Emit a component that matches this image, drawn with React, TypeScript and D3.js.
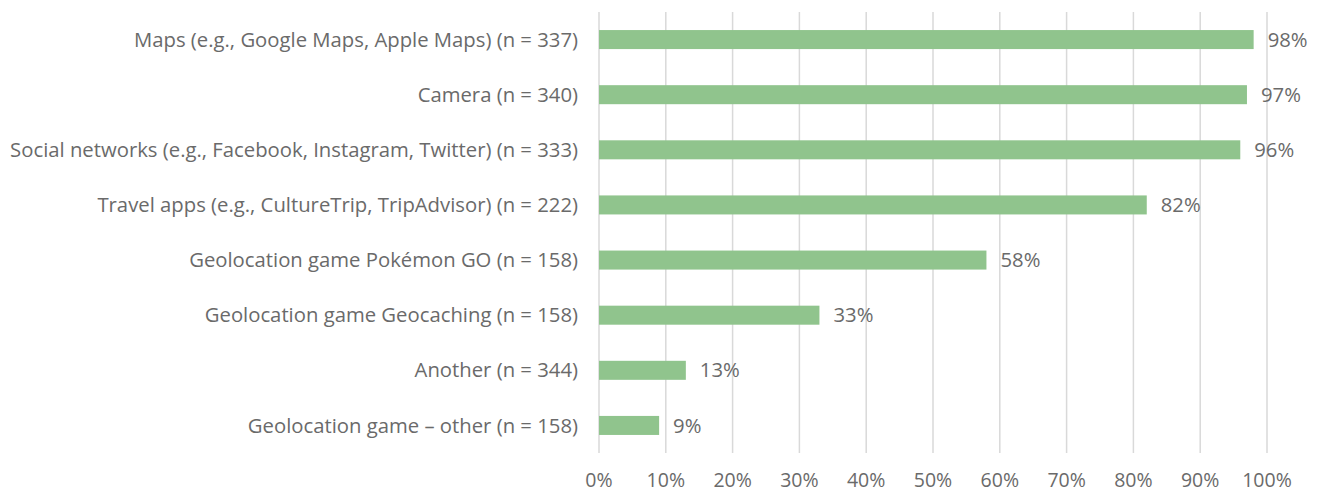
import React from "react";
import * as d3 from "d3";

const categories = [
  "Maps (e.g., Google Maps, Apple Maps) (n = 337)",
  "Camera (n = 340)",
  "Social networks (e.g., Facebook, Instagram, Twitter) (n = 333)",
  "Travel apps (e.g., CultureTrip, TripAdvisor) (n = 222)",
  "Geolocation game Pokémon GO (n = 158)",
  "Geolocation game Geocaching (n = 158)",
  "Another (n = 344)",
  "Geolocation game – other (n = 158)",
];
const values = [98, 97, 96, 82, 58, 33, 13, 9];
const ticks = [0, 10, 20, 30, 40, 50, 60, 70, 80, 90, 100];

const W = 1321;
const H = 493;
const FONT = "'Open Sans', sans-serif";
const FS = 20.3;

export default function App() {
  const x = d3.scaleLinear().domain([0, 100]).range([599, 1267]);
  const y = d3.scaleBand().domain(categories).range([12, 453]).paddingInner(0.655).paddingOuter(0.3275);
  const textColor = "#6a6a6a";
  return (
    <svg width={W} height={H} style={{ position: "absolute", left: 0, top: 0 }}>
      <rect width={W} height={H} fill="#fff" />
      {ticks.map((t) => (
        <g key={t}>
          <line x1={x(t)} x2={x(t)} y1={12} y2={453} stroke="#d9d9d9" strokeWidth={1.5} />
          <text x={x(t)} y={487} textAnchor="middle" fontFamily={FONT} fontSize={19.5} fill={textColor}>
            {t}%
          </text>
        </g>
      ))}
      {categories.map((c, i) => {
        const yy = y(c)!;
        const cy = yy + y.bandwidth() / 2;
        return (
          <g key={c}>
            <rect x={x(0)} y={yy} width={x(values[i]) - x(0)} height={y.bandwidth()} fill="#90c48d" />
            <text x={578} y={cy} dy="0.35em" textAnchor="end" fontFamily={FONT} fontSize={FS} fill={textColor}>
              {c}
            </text>
            <text x={x(values[i]) + 14} y={cy} dy="0.35em" fontFamily={FONT} fontSize={FS} fill={textColor}>
              {values[i]}%
            </text>
          </g>
        );
      })}
    </svg>
  );
}
